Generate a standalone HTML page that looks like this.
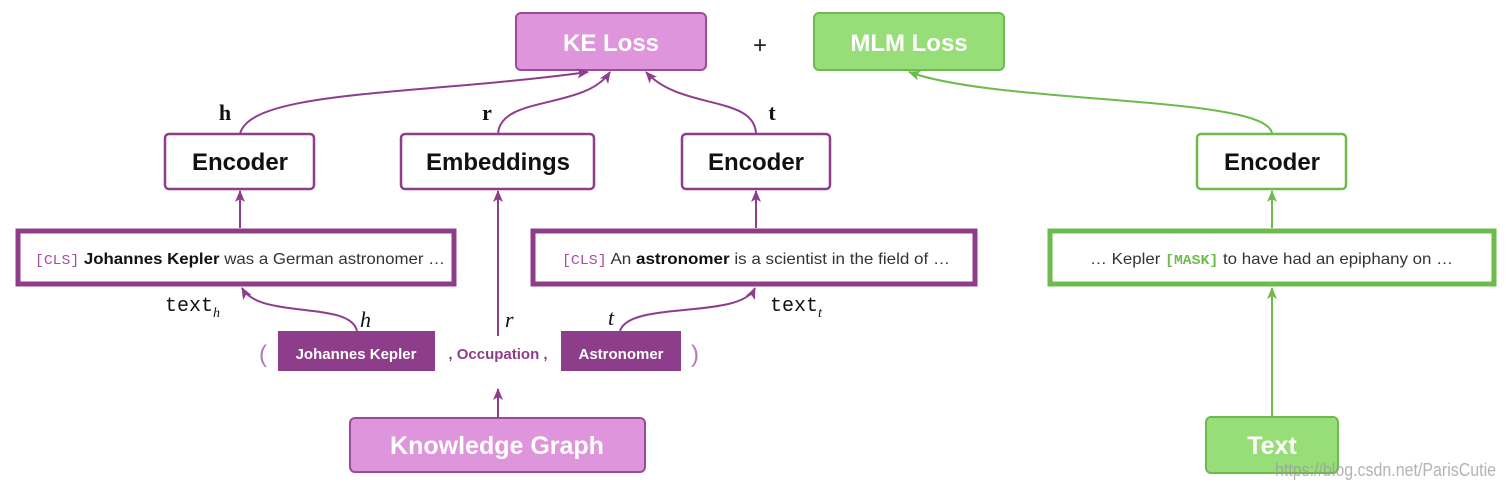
<!DOCTYPE html>
<html><head><meta charset="utf-8"><style>
html,body{margin:0;padding:0;background:#fff;width:1506px;height:490px;overflow:hidden}
svg text{font-family:"Liberation Sans",sans-serif}
.m{font-family:"Liberation Mono",monospace}
.s{font-family:"Liberation Serif",serif}
</style></head><body>
<svg width="1506" height="490" xmlns="http://www.w3.org/2000/svg">
<defs>
<marker id="ap" markerWidth="14" markerHeight="14" refX="11" refY="7" orient="auto" markerUnits="userSpaceOnUse"><path d="M0,2 L12,7 L0,12 L3,7 z" fill="#8e3d8a"/></marker>
<marker id="ag" markerWidth="14" markerHeight="14" refX="11" refY="7" orient="auto" markerUnits="userSpaceOnUse"><path d="M0,2 L12,7 L0,12 L3,7 z" fill="#6cbb4c"/></marker>
</defs>
<rect x="516" y="13" width="190" height="57" rx="5" fill="#df95dc" stroke="#9c4a99" stroke-width="2"/>
<text x="611" y="51" text-anchor="middle" font-size="24" font-weight="bold" fill="#fff">KE Loss</text>
<text x="760" y="53" text-anchor="middle" font-size="24" fill="#222">+</text>
<rect x="814" y="13" width="190" height="57" rx="5" fill="#97de79" stroke="#6cbb4c" stroke-width="2"/>
<text x="909" y="51" text-anchor="middle" font-size="24" font-weight="bold" fill="#fff">MLM Loss</text>
<g fill="#fff" stroke="#8e3d8a" stroke-width="2.5">
<rect x="165" y="134" width="149" height="55" rx="4"/>
<rect x="401" y="134" width="193" height="55" rx="4"/>
<rect x="682" y="134" width="148" height="55" rx="4"/>
</g>
<rect x="1197" y="134" width="149" height="55" rx="4" fill="#fff" stroke="#6cbb4c" stroke-width="2.5"/>
<g font-size="24" font-weight="bold" fill="#111" text-anchor="middle">
<text x="240" y="170">Encoder</text>
<text x="498" y="170">Embeddings</text>
<text x="756" y="170">Encoder</text>
<text x="1272" y="170">Encoder</text>
</g>
<g font-size="22" font-weight="bold" fill="#111" text-anchor="middle">
<text x="225" y="120" class="s">h</text>
<text x="487" y="120" class="s">r</text>
<text x="772" y="120" class="s">t</text>
</g>
<rect x="18" y="231" width="436" height="53" fill="#fff" stroke="#8e3d8a" stroke-width="5"/>
<rect x="533" y="231" width="442" height="53" fill="#fff" stroke="#8e3d8a" stroke-width="5"/>
<rect x="1050" y="231" width="444" height="53" fill="#fff" stroke="#6cbb4c" stroke-width="5"/>
<text x="35" y="264" font-size="16" fill="#333" textLength="410" lengthAdjust="spacingAndGlyphs"><tspan class="m" fill="#a64fa2" font-size="14">[CLS]</tspan> <tspan font-weight="bold" fill="#111">Johannes Kepler</tspan> was a German astronomer …</text>
<text x="562" y="264" font-size="16" fill="#333" textLength="388" lengthAdjust="spacingAndGlyphs"><tspan class="m" fill="#a64fa2" font-size="14">[CLS]</tspan> An <tspan font-weight="bold" fill="#111">astronomer</tspan> is a scientist in the field of  …</text>
<text x="1090" y="264" font-size="16" fill="#333" textLength="363" lengthAdjust="spacingAndGlyphs">… Kepler <tspan class="m" fill="#6cbb4c" font-size="14" font-weight="bold">[MASK]</tspan> to have had an epiphany on …</text>
<text x="263" y="362" font-size="24" fill="#b47ab2" text-anchor="middle">(</text>
<rect x="278" y="331" width="157" height="40" fill="#8e3d8a"/>
<text x="356" y="359" text-anchor="middle" font-size="15" font-weight="bold" fill="#fff">Johannes Kepler</text>
<text x="498" y="359" text-anchor="middle" font-size="15" font-weight="bold" fill="#8e3d8a">, Occupation ,</text>
<rect x="561" y="331" width="120" height="40" fill="#8e3d8a"/>
<text x="621" y="359" text-anchor="middle" font-size="15" font-weight="bold" fill="#fff">Astronomer</text>
<text x="695" y="362" font-size="24" fill="#b47ab2" text-anchor="middle">)</text>
<g font-size="22" font-style="italic" fill="#111">
<text x="360" y="327" class="s">h</text>
<text x="505" y="327" class="s">r</text>
<text x="608" y="325" class="s">t</text>
</g>
<text x="165" y="311" class="m" font-size="20" fill="#111">text<tspan font-size="14" dy="6" class="s" font-style="italic">h</tspan></text>
<text x="770" y="311" class="m" font-size="20" fill="#111">text<tspan font-size="14" dy="6" class="s" font-style="italic">t</tspan></text>
<rect x="350" y="418" width="295" height="54" rx="5" fill="#df95dc" stroke="#9c4a99" stroke-width="2"/>
<text x="497" y="454" text-anchor="middle" font-size="25" font-weight="bold" fill="#fff">Knowledge Graph</text>
<rect x="1206" y="417" width="132" height="56" rx="5" fill="#97de79" stroke="#6cbb4c" stroke-width="2"/>
<text x="1272" y="454" text-anchor="middle" font-size="25" font-weight="bold" fill="#fff">Text</text>
<g fill="none" stroke="#8e3d8a" stroke-width="2">
<path d="M240,134 C250,90 420,95 588,72" marker-end="url(#ap)"/>
<path d="M498,134 C500,95 585,110 610,72" marker-end="url(#ap)"/>
<path d="M756,134 C755,95 680,110 646,72" marker-end="url(#ap)"/>
<path d="M240,228 L240,191" marker-end="url(#ap)"/>
<path d="M756,228 L756,191" marker-end="url(#ap)"/>
<path d="M498,336 L498,191" marker-end="url(#ap)"/>
<path d="M498,418 L498,389" marker-end="url(#ap)"/>
<path d="M357,331 C350,300 260,320 242,288" marker-end="url(#ap)"/>
<path d="M620,331 C630,300 740,320 755,288" marker-end="url(#ap)"/>
</g>
<g fill="none" stroke="#6cbb4c" stroke-width="2">
<path d="M1272,134 C1270,95 1000,105 909,72" marker-end="url(#ag)"/>
<path d="M1272,228 L1272,191" marker-end="url(#ag)"/>
<path d="M1272,416 L1272,288" marker-end="url(#ag)"/>
</g>
<text x="1275" y="476" font-size="18" fill="#999" fill-opacity="0.75" textLength="221" lengthAdjust="spacingAndGlyphs">https://blog.csdn.net/ParisCutie</text>
</svg>
</body></html>
